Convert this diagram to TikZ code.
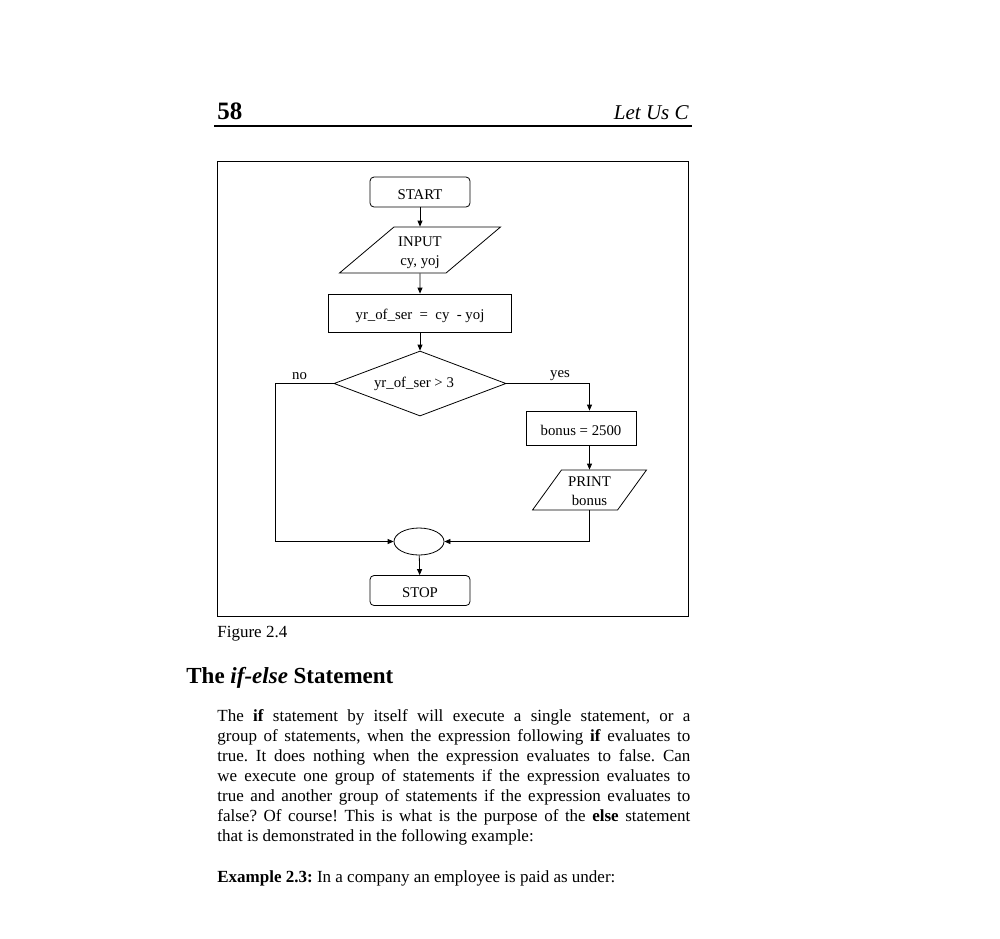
\documentclass[tikz,border=0pt]{standalone}
\usepackage{fontspec}
\setmainfont{Liberation Serif}
\usetikzlibrary{shapes.geometric,arrows.meta,positioning}
\frenchspacing
\newcommand{\low}[1]{\raisebox{-2.5pt}[\height][\depth]{#1}}
\newcommand{\twoln}[2]{\raisebox{-2.5pt}[\height][\depth]{\begin{tabular}{@{}c@{}}#1\\#2\end{tabular}}}

\begin{document}
\begin{tikzpicture}[x=1pt,y=-1pt,line width=0.8pt,>={Triangle[length=6pt,width=5pt]}]
\tikzstyle{every node}=[inner sep=1pt,font=\fontsize{14.8}{19}\selectfont]
\tikzstyle{term}=[draw,rounded corners=4pt,minimum width=100pt,minimum height=30pt]
\tikzstyle{io}=[draw,trapezium,trapezium stretches=true]
\tikzstyle{proc}=[draw]
\tikzstyle{dec}=[draw,diamond,aspect=2.65,minimum width=172pt,minimum height=65pt]
\tikzstyle{body}=[inner sep=0,font=\fontsize{17}{20}\selectfont]

\useasboundingbox (0,0) rectangle (1000,938);

% page header
\node[anchor=base west,inner sep=0,font=\fontsize{25}{30}\selectfont\bfseries] (pg) at (217,119) {58};
\node[anchor=base east,inner sep=0,font=\fontsize{21}{25}\selectfont\itshape] (ttl) at (689,119) {Let Us C};
\draw[line width=1.1pt] (214,126) -- (692,126);

% figure frame
\draw (217,161) rectangle (688,616);

\node[term] (start) at (420,192) {\low{START}};
\node[io,trapezium left angle=40,trapezium right angle=140,minimum width=161pt,minimum height=46pt] (inp) at (420,250) {\twoln{INPUT}{cy, yoj}};
\node[proc,minimum width=183pt,minimum height=38pt] (calc) at (420,313) {\low{yr\_of\_ser\ \ =\ \ cy\ \ - yoj}};
\node[dec] (cond) at (420,383.5) {yr\_of\_ser > 3\kern12pt};
\node[proc,minimum width=110pt,minimum height=34pt] (bonus) at (581,428) {\low{bonus = 2500}};
\node[io,trapezium left angle=60,trapezium right angle=120,minimum width=115pt,minimum height=38pt] (prn) at (589.5,490) {\twoln{PRINT}{bonus}};
\node[draw,ellipse,minimum width=50pt,minimum height=27pt] (join) at (419,541.5) {};
\node[term] (stop) at (420,590.5) {\low{STOP}};

\node[anchor=base] (nolbl) at (299.5,379) {no};
\node[anchor=base] (yeslbl) at (560,377) {yes};

\draw[->] (start) -- (inp);
\draw[->] (inp) -- (calc);
\draw[->] (calc) -- (cond);
\draw[->] (cond.west) -- ++(-58,0) |- (join.west);
\draw[->] (cond.east) -| (bonus.north -| prn.center);
\draw[->] (bonus.south -| prn.center) -- (prn.north -| prn.center);
\draw[->] (prn.south -| prn.center) |- (join.east);
\draw[->] (join) -- (stop);

% caption and text below
\node[body,anchor=base west] (cap) at (217,637) {Figure 2.4};
\node[anchor=base west,inner sep=0,font=\fontsize{23}{28}\selectfont\bfseries] (head) at (186,683) {The \textit{if-else} Statement};
\node[body,anchor=north west,text width=473pt,align=justify] (para) at (217,709) {The \textbf{if} statement by itself will execute a single statement, or a\linebreak
group of statements, when the expression following \textbf{if} evaluates to\linebreak
true. It does nothing when the expression evaluates to false. Can\linebreak
we execute one group of statements if the expression evaluates to\linebreak
true and another group of statements if the expression evaluates to\linebreak
false? Of course! This is what is the purpose of the \textbf{else} statement\linebreak
that is demonstrated in the following example:};
\node[body,anchor=base west] (ex) at (217,882) {\textbf{Example 2.3:} In a company an employee is paid as under:};
\end{tikzpicture}
\end{document}
